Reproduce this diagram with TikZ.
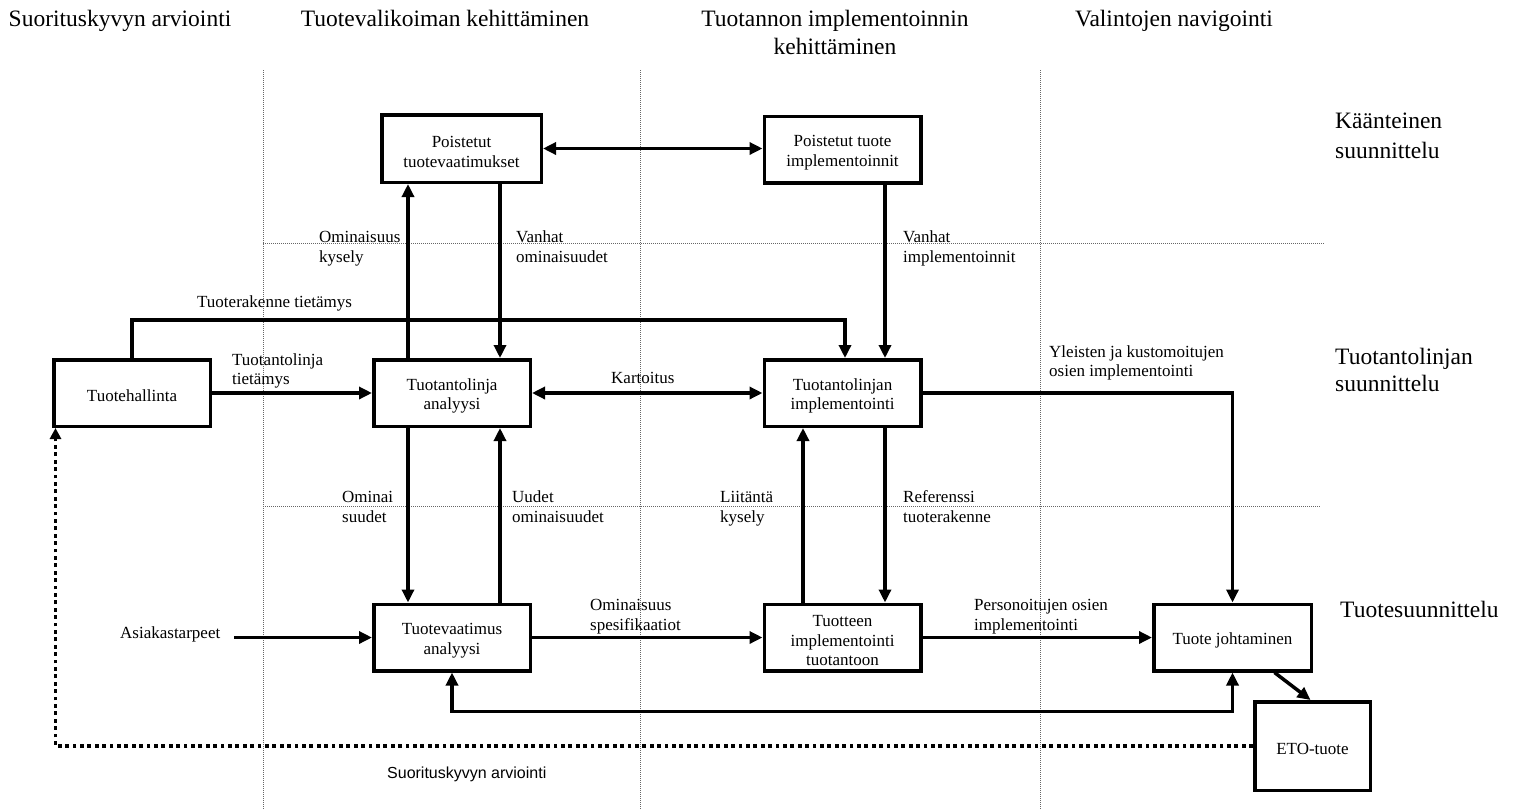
\documentclass[tikz,border=0pt]{standalone}
\usepackage{fontspec}
\setmainfont{Liberation Serif}
\newfontfamily\lblsans{Liberation Sans}
\usetikzlibrary{arrows.meta}

% raises the first line's height so box text sits a little lower
\newcommand{\boxtop}{\rule{0pt}{18pt}}

\tikzset{
  box/.style={draw, line width=3.5pt, minimum width=156.5pt, minimum height=66.5pt,
    align=center, inner sep=2pt, font=\fontsize{17}{19.5}\selectfont},
  flow/.style={line width=3.5pt, -{Triangle[length=13pt,width=12pt]}},
  flowboth/.style={line width=3.5pt, {Triangle[length=13pt,width=12pt]}-{Triangle[length=13pt,width=12pt]}},
  dotflow/.style={line width=3.8pt, dash pattern=on 3.8pt off 3.6pt, -{Triangle[length=11pt,width=11pt]}},
  sep/.style={draw=black!60, line width=0.8pt, dash pattern=on 1pt off 1pt},
  % text nodes hang from the top of a strut, so the first baseline sits
  % 0.7 baselineskip below the given point
  lbl/.style={anchor=north west, align=left, inner sep=0pt, font=\fontsize{17}{20}\selectfont},
  head/.style={anchor=north, align=center, inner sep=0pt, font=\fontsize{23.5}{28}\selectfont},
  side/.style={anchor=north west, align=left, inner sep=0pt},
}

\begin{document}
\begin{tikzpicture}[x=1pt,y=-1pt]
\useasboundingbox (0,0) rectangle (1515,809);

% column and row separators
\draw[sep] (263,70) -- (263,809);
\draw[sep] (640,70) -- (640,809);
\draw[sep] (1040,70) -- (1040,809);
\draw[sep] (263,243) -- (1325,243);
\draw[sep] (263,506) -- (1320,506);

% column headings
\node[head] (h1) at (120,6.4) {\strut Suorituskyvyn arviointi};
\node[head] (h2) at (445,6.4) {\strut Tuotevalikoiman kehittäminen};
\node[head] (h3) at (835,6.4) {\strut Tuotannon implementoinnin\\kehittäminen};
\node[head] (h4) at (1174,6.4) {\strut Valintojen navigointi};

% row headings
\node[side, font=\fontsize{23.5}{30}\selectfont] (r1) at (1335,107) {\strut Käänteinen\\suunnittelu};
\node[side, font=\fontsize{23.5}{27}\selectfont] (r2) at (1335,345) {\strut Tuotantolinjan\\suunnittelu};
\node[side, font=\fontsize{23.5}{28}\selectfont] (r3) at (1340,597.5) {\strut Tuotesuunnittelu};

% process boxes
\node[box, minimum width=159.5pt, minimum height=67.5pt] (pv) at (461.5,148.5) {\boxtop Poistetut\\tuotevaatimukset};
\node[box] (pi) at (842.5,149.5) {\boxtop Poistetut tuote\\implementoinnit};
\node[box] (th) at (132,393) {\boxtop Tuotehallinta};
\node[box] (tla) at (452,393) {\boxtop Tuotantolinja\\analyysi};
\node[box] (tli) at (842.5,393) {\boxtop Tuotantolinjan\\implementointi};
\node[box] (tva) at (452,637.5) {\boxtop Tuotevaatimus\\analyysi};
\node[box] (tit) at (842.5,637.5) {\boxtop Tuotteen\\implementointi\\tuotantoon};
\node[box, minimum width=157.5pt] (tj) at (1232.5,637.5) {\boxtop Tuote johtaminen};
\node[box, minimum width=115.5pt, minimum height=88.5pt] (eto) at (1312.5,746) {\boxtop ETO-tuote};

% connectors
\draw[flowboth] (pv.east) -- (pv.east -| pi.west);
\draw[flow] ([xshift=-44pt]tla.north) -- ([xshift=-44pt]tla.north |- pv.south);
\draw[flow] ([xshift=48pt]tla.north |- pv.south) -- ([xshift=48pt]tla.north);
\draw[flow] ([xshift=42.5pt]tli.north |- pi.south) -- ([xshift=42.5pt]tli.north);
\draw[flow] (th.north) -- ++(0,-38) -| ([xshift=2.5pt]tli.north);
\draw[flow] (th.east) -- (tla.west);
\draw[flowboth] (tla.east) -- (tli.west);
\draw[flow] (tli.east) -| (tj.north);
\draw[flow] ([xshift=-44pt]tla.south) -- ([xshift=-44pt]tla.south |- tva.north);
\draw[flow] ([xshift=48pt]tla.south |- tva.north) -- ([xshift=48pt]tla.south);
\draw[flow] ([xshift=-39.5pt]tli.south |- tit.north) -- ([xshift=-39.5pt]tli.south);
\draw[flow] ([xshift=42.5pt]tli.south) -- ([xshift=42.5pt]tli.south |- tit.north);

\node[lbl] (asiak) at (120,624.5) {\strut Asiakastarpeet};
\draw[flow, shorten <=14pt] (asiak.east |- tva.west) -- (tva.west);
\draw[flow] (tva.east) -- (tit.west);
\draw[flow] (tit.east) -- (tj.west);
\draw[flowboth] (tva.south) -- ++(0,39) -| (tj.south);
\draw[flow] ([xshift=42pt]tj.south) -- ([xshift=-2pt]eto.north);
\draw[dotflow] (eto.west) -| ([xshift=3.5pt]th.south west);

% connector labels
\node[lbl] (l1) at (319,228.5) {\strut Ominaisuus\\kysely};
\node[lbl] (l2) at (516,228.5) {\strut Vanhat\\ominaisuudet};
\node[lbl] (l3) at (903,228.5) {\strut Vanhat\\implementoinnit};
\node[lbl] (l4) at (197,293.5) {\strut Tuoterakenne tietämys};
\node[lbl, font=\fontsize{17}{19}\selectfont] (l5) at (232,352) {\strut Tuotantolinja\\tietämys};
\node[lbl] (l6) at (611,369.5) {\strut Kartoitus};
\node[lbl, font=\fontsize{17}{19}\selectfont] (l7) at (1049,344) {\strut Yleisten ja kustomoitujen\\osien implementointi};
\node[lbl] (l8) at (342,488.5) {\strut Ominai\\suudet};
\node[lbl] (l9) at (512,488.5) {\strut Uudet\\ominaisuudet};
\node[lbl] (l10) at (720,488.5) {\strut Liitäntä\\kysely};
\node[lbl] (l11) at (903,488.5) {\strut Referenssi\\tuoterakenne};
\node[lbl] (l12) at (590,596.5) {\strut Ominaisuus\\spesifikaatiot};
\node[lbl] (l13) at (974,596.5) {\strut Personoitujen osien\\implementointi};
\node[lbl, font=\lblsans\fontsize{16}{19}\selectfont] (l14) at (387,764.7) {\strut Suorituskyvyn arviointi};

\end{tikzpicture}
\end{document}
